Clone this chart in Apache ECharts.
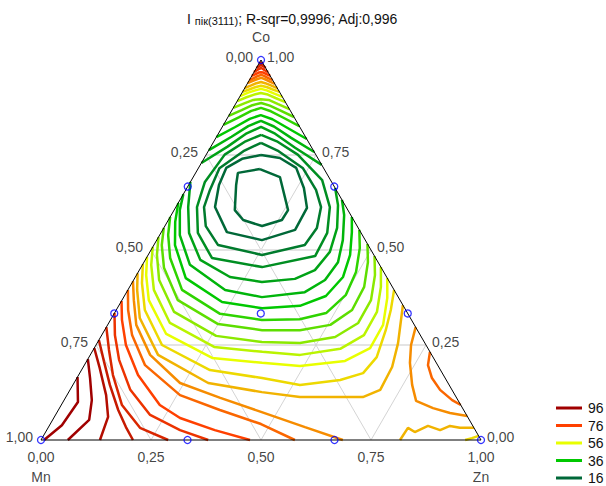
<!DOCTYPE html>
<html><head><meta charset="utf-8">
<script src="https://cdn.jsdelivr.net/npm/echarts/dist/echarts.min.js"></script>
<style>html,body{margin:0;padding:0;background:#fff}#c{width:606px;height:486px}</style>
</head><body><div id="c"></div>
<script>
// ---- ternary contour data: points are [Zn, Co] fractions (Mn = 1 - Zn - Co) ----
const loop12 = [[0.141,0.713],[0.197,0.692],[0.259,0.605],[0.258,0.579],[0.221,0.563],[0.170,0.579],[0.138,0.605],[0.108,0.671],[0.096,0.703]];
const loop16 = [[0.125,0.750],[0.172,0.742],[0.222,0.716],[0.266,0.663],[0.299,0.611],[0.301,0.553],[0.239,0.526],[0.149,0.547],[0.089,0.613],[0.069,0.671],[0.063,0.716],[0.087,0.740]];
const loop20 = [[0.109,0.782],[0.160,0.760],[0.238,0.715],[0.296,0.658],[0.330,0.613],[0.348,0.558],[0.343,0.513],[0.259,0.487],[0.146,0.513],[0.093,0.563],[0.064,0.613],[0.055,0.658],[0.048,0.715],[0.080,0.760]];
const loop24 = [[0.099,0.803],[0.143,0.786],[0.208,0.751],[0.297,0.684],[0.350,0.613],[0.378,0.545],[0.381,0.484],[0.275,0.455],[0.149,0.479],[0.084,0.545],[0.048,0.613],[0.033,0.679],[0.042,0.751],[0.072,0.786]];

const arc28 = [[0,0.729],[0.038,0.772],[0.064,0.807],[0.088,0.824],[0.129,0.806],[0.193,0.769],[0.276,0.724]];
const arc32 = [[0,0.763],[0.034,0.798],[0.058,0.826],[0.080,0.840],[0.117,0.825],[0.171,0.795],[0.242,0.758]];
const arc36 = [[0,0.797],[0.029,0.823],[0.052,0.845],[0.072,0.855],[0.104,0.844],[0.150,0.821],[0.208,0.792]];
const arc40 = [[0,0.829],[0.025,0.849],[0.045,0.866],[0.063,0.874],[0.090,0.865],[0.127,0.848],[0.174,0.826]];
const arc44 = [[0,0.853],[0.022,0.868],[0.040,0.881],[0.057,0.887],[0.080,0.880],[0.111,0.867],[0.150,0.850]];
const arc48 = [[0,0.874],[0.019,0.886],[0.035,0.895],[0.051,0.897],[0.070,0.895],[0.097,0.884],[0.129,0.871]];
const arc52 = [[0,0.892],[0.016,0.902],[0.030,0.909],[0.043,0.913],[0.061,0.909],[0.083,0.900],[0.111,0.889]];
const arc56 = [[0,0.905],[0.014,0.914],[0.027,0.920],[0.038,0.924],[0.053,0.920],[0.073,0.912],[0.097,0.903]];
const arc60 = [[0,0.916],[0.013,0.923],[0.024,0.929],[0.034,0.932],[0.048,0.929],[0.064,0.923],[0.084,0.916]];
const arc64 = [[0,0.926],[0.011,0.933],[0.020,0.939],[0.029,0.942],[0.040,0.939],[0.056,0.933],[0.074,0.926]];
const arc68 = [[0,0.939],[0.009,0.945],[0.017,0.950],[0.024,0.953],[0.033,0.950],[0.047,0.944],[0.063,0.937]];
const arc72 = [[0,0.947],[0.008,0.953],[0.014,0.958],[0.020,0.961],[0.028,0.958],[0.039,0.953],[0.053,0.947]];
const arc76 = [[0,0.958],[0.006,0.963],[0.011,0.967],[0.016,0.968],[0.022,0.967],[0.031,0.963],[0.042,0.958]];
const arc80 = [[0,0.968],[0.004,0.973],[0.008,0.977],[0.011,0.979],[0.015,0.977],[0.022,0.973],[0.032,0.968]];
const arc84 = [[0,0.979],[0.003,0.983],[0.005,0.985],[0.007,0.987],[0.010,0.985],[0.015,0.983],[0.021,0.979]];
const arc88 = [[0,0.990],[0.003,0.993],[0.010,0.990]];

const u28 = [[0,0.679],[0.028,0.613],[0.064,0.545],[0.125,0.474],[0.215,0.429],[0.294,0.416],[0.365,0.424],[0.399,0.447],[0.409,0.495],[0.394,0.558],[0.366,0.618],[0.337,0.663]];
const u32 = [[0,0.647],[0.013,0.605],[0.046,0.539],[0.108,0.461],[0.221,0.395],[0.314,0.376],[0.405,0.389],[0.435,0.421],[0.441,0.468],[0.423,0.526],[0.393,0.592],[0.368,0.632]];
const u36 = [[0,0.624],[0.018,0.574],[0.048,0.513],[0.116,0.426],[0.230,0.363],[0.329,0.347],[0.412,0.353],[0.458,0.379],[0.472,0.429],[0.459,0.487],[0.433,0.547],[0.413,0.587]];
const u40 = [[0,0.587],[0.019,0.540],[0.054,0.479],[0.123,0.395],[0.241,0.332],[0.344,0.316],[0.429,0.318],[0.481,0.334],[0.502,0.382],[0.495,0.442],[0.472,0.505],[0.447,0.553]];
const u44 = [[0,0.558],[0.018,0.513],[0.053,0.453],[0.127,0.368],[0.250,0.305],[0.358,0.289],[0.444,0.289],[0.506,0.303],[0.536,0.342],[0.533,0.403],[0.509,0.468],[0.484,0.516]];
const u48 = [[0,0.534],[0.020,0.487],[0.058,0.421],[0.134,0.337],[0.261,0.274],[0.373,0.258],[0.461,0.255],[0.533,0.271],[0.567,0.308],[0.566,0.368],[0.542,0.434],[0.516,0.484]];
const u52 = [[0,0.508],[0.020,0.461],[0.059,0.395],[0.139,0.308],[0.271,0.245],[0.387,0.232],[0.477,0.224],[0.560,0.240],[0.596,0.276],[0.595,0.337],[0.571,0.403],[0.545,0.455]];
const u56 = [[0,0.482],[0.022,0.434],[0.061,0.368],[0.145,0.279],[0.281,0.216],[0.401,0.203],[0.491,0.195],[0.587,0.208],[0.627,0.242],[0.626,0.303],[0.600,0.374],[0.574,0.426]];
const u60 = [[0,0.463],[0.023,0.413],[0.065,0.342],[0.150,0.250],[0.292,0.184],[0.421,0.163],[0.516,0.145],[0.601,0.158],[0.644,0.176],[0.654,0.218],[0.639,0.289],[0.624,0.342],[0.605,0.395]];
const u64 = [[0,0.439],[0.021,0.395],[0.064,0.321],[0.154,0.224],[0.305,0.150],[0.439,0.126],[0.532,0.113],[0.675,0.113],[0.705,0.132],[0.702,0.192],[0.684,0.255],[0.645,0.355]];

const b68 = [[0,0.418],[0.027,0.368],[0.065,0.303],[0.136,0.224],[0.241,0.150],[0.352,0.111],[0.463,0.074],[0.583,0.034],[0.686,0]];
const b72 = [[0,0.395],[0.027,0.342],[0.069,0.276],[0.138,0.197],[0.257,0.118],[0.367,0.079],[0.479,0.042],[0.577,0]];
const b76 = [[0,0.366],[0.026,0.316],[0.068,0.250],[0.135,0.171],[0.224,0.092],[0.287,0.058],[0.382,0.026],[0.475,0]];
const b80 = [[0,0.334],[0.030,0.276],[0.072,0.211],[0.137,0.132],[0.215,0.066],[0.303,0.026],[0.380,0]];
const b84 = [[0,0.297],[0.036,0.237],[0.078,0.171],[0.138,0.092],[0.209,0.032],[0.289,0]];
const b88 = [[0,0.263],[0.041,0.205],[0.084,0.145],[0.136,0.079],[0.176,0.034],[0.209,0]];
const b92 = [[0,0.242],[0.039,0.189],[0.089,0.118],[0.122,0.061],[0.134,0]];
const b96 = [[0,0.213],[0.030,0.163],[0.063,0.105],[0.083,0.053],[0.061,0]];
const b100 = [[0,0.166],[0.034,0.100],[0.028,0.039],[0.007,0]];

const r68 = [[0.703,0.297],[0.716,0.250],[0.737,0.203],[0.771,0.145],[0.801,0.103],[0.849,0.084],[0.894,0.071],[0.937,0.063]];
const r72 = [[0.768,0.232],[0.781,0.197],[0.807,0.163],[0.841,0.132],[0.882,0.105],[0.908,0.092]];
const z64 = [[0.816,0],[0.818,0.032],[0.839,0.021],[0.861,0.037],[0.894,0.026],[0.911,0.037],[0.936,0.032],[0.968,0.032]];
const z60 = [[0.964,0],[0.977,0.005],[0.989,0.011]];

const designPts = [[0,1],[0,0],[1,0],[0,0.667],[0,0.333],[0.333,0.667],[0.667,0.333],[0.333,0],[0.667,0],[0.333,0.333]];
const tickVals = [0, 0.25, 0.5, 0.75, 1];
const tickText = ['0,00','0,25','0,50','0,75','1,00'];
const gridVals = [0.25, 0.5, 0.75];
const legendLevels = ['96','76','56','36','16'];

// level, points, closed
const contours = [
  [12, loop12, true],[16, loop16, true],[20, loop20, true],[24, loop24, true],
  [28, arc28],[28, u28],[32, arc32],[32, u32],[36, arc36],[36, u36],[40, arc40],[40, u40],
  [44, arc44],[44, u44],[48, arc48],[48, u48],[52, arc52],[52, u52],[56, arc56],[56, u56],
  [60, arc60],[60, u60],[60, z60],[64, arc64],[64, u64],[64, z64],[68, arc68],[68, b68],[68, r68],
  [72, arc72],[72, b72],[72, r72],[76, arc76],[76, b76],[80, arc80],[80, b80],[84, arc84],[84, b84],
  [88, arc88],[88, b88],[92, b92],[96, b96],[100, b100]
];

// ---- rendering ----
const S3 = Math.sqrt(3) / 2;
const xy = p => [p[0] + p[1] / 2, p[1] * S3];
const stops = [[16,[0,104,56]],[36,[0,200,0]],[56,[232,255,0]],[76,[255,64,0]],[96,[160,0,0]]];
function levelColor(v) {
  if (v <= stops[0][0]) return 'rgb(' + stops[0][1].join(',') + ')';
  for (let i = 1; i < stops.length; i++) {
    if (v <= stops[i][0]) {
      const t = (v - stops[i-1][0]) / (stops[i][0] - stops[i-1][0]);
      const c = stops[i-1][1].map((a, k) => Math.round(a + (stops[i][1][k] - a) * t));
      return 'rgb(' + c.join(',') + ')';
    }
  }
  return 'rgb(' + stops[stops.length-1][1].join(',') + ')';
}
const FONT = 'Liberation Sans, Arial, sans-serif';
const FS = 14;
const series = [];
function plain(pts, color, width, z) {
  series.push({type:'line', data: pts.map(xy), symbol:'none', silent:true, animation:false, clip:false, z:z,
    lineStyle:{color:color, width:width}, itemStyle:{color:color}});
}
gridVals.forEach(v => {
  plain([[0,v],[1-v,v]], '#e4e4e4', 2, 1);
  plain([[v,0],[v,1-v]], '#d4d4d4', 1, 1);
  plain([[1-v,0],[0,1-v]], '#d4d4d4', 1, 1);
});
contours.forEach(([lev, pts, closed]) => {
  const d = pts.map(xy); if (closed) d.push(d[0]);
  const c = levelColor(lev);
  series.push({type:'line', name:String(lev), data:d, symbol:'none', silent:true, animation:false, clip:false, z:2,
    lineStyle:{color:c, width:2.5}, itemStyle:{color:c}});
});
plain([[0,1],[0,0],[1,0],[0,1]], '#000', 1, 3);
series.push({type:'scatter', data: designPts.map(xy), symbol:'circle', symbolSize:7, silent:true, animation:false, z:4,
  itemStyle:{color:'rgba(255,255,255,0)', borderColor:'#0000ff', borderWidth:1.3}});
function labels(items, pos, dist, off) {
  series.push({type:'scatter', data: items, symbolSize:0, silent:true, animation:false, z:5,
    label:{show:true, position:pos, distance:dist, offset:off, formatter:p => p.name, fontSize:FS, fontFamily:FONT, color:'#111'}});
}
labels(tickVals.map((t,i) => ({value: xy([0, 1 - t]), name: tickText[i]})), 'left', 8, [0,-3]);
labels(tickVals.map((t,i) => ({value: xy([1 - t, t]), name: tickText[i]})), 'right', 6, [0,-3]);
labels(tickVals.map((t,i) => ({value: xy([t, 0]), name: tickText[i]})), 'bottom', 10, [0,0]);
labels([{value: xy([0,1]), name:'Co'}], 'top', 16, [0,0]);
labels([{value: xy([0,0]), name:'Mn'}, {value: xy([1,0]), name:'Zn'}], 'bottom', 30, [0,0]);

const chart = echarts.init(document.getElementById('c'), null, {renderer:'svg'});
chart.setOption({
  backgroundColor:'#fff',
  animation:false,
  title:{
    text:'{m|I }{s|пік(3111)}{m|; R-sqr=0,9996; Adj:0,996}',
    left:187, top:9, padding:0,
    textStyle:{fontWeight:'normal', rich:{
      m:{fontSize:FS, fontWeight:'normal', fontFamily:FONT, color:'#111', lineHeight:17, verticalAlign:'bottom'},
      s:{fontSize:11, fontWeight:'normal', fontFamily:FONT, color:'#111', lineHeight:7, verticalAlign:'bottom'}
    }}
  },
  legend:{
    data:legendLevels, orient:'vertical', left:556, top:401, height:90, padding:0, itemWidth:26, itemHeight:3, itemGap:3.5,
    icon:'rect', selectedMode:false,
    textStyle:{fontSize:FS, fontFamily:FONT, color:'#111', lineHeight:14, padding:[0,0,0,1]}
  },
  grid:{left:41, top:60, width:440, height:380, containLabel:false},
  xAxis:{type:'value', min:0, max:1, show:false},
  yAxis:{type:'value', min:0, max:S3, show:false},
  series:series
});
</script>
</body></html>
